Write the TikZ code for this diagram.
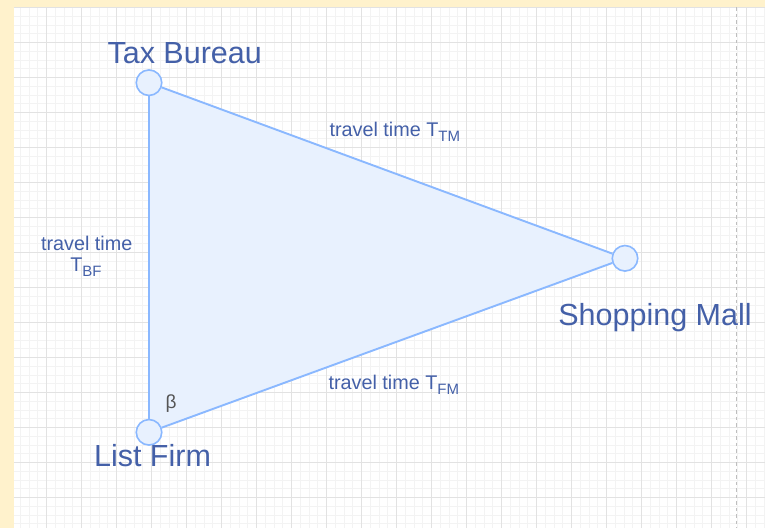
\documentclass[tikz,border=0pt]{standalone}
\usepackage{fontspec}
\setmainfont{Liberation Sans}
\definecolor{cream}{RGB}{255,242,204}
\definecolor{minorg}{RGB}{243,243,243}
\definecolor{majorg}{RGB}{226,226,226}
\definecolor{dashg}{RGB}{190,190,190}
\definecolor{edgeblue}{RGB}{138,184,255}
\definecolor{fillblue}{RGB}{232,241,254}
\definecolor{txtblue}{RGB}{68,96,168}
\definecolor{betagray}{RGB}{85,85,85}
\tikzset{
  vertex/.style={circle,draw=edgeblue,fill=fillblue,line width=1.6pt,minimum size=25.5pt,inner sep=0pt},
  edgeline/.style={draw=edgeblue,line width=1.9pt},
  bigtxt/.style={text=txtblue,font=\fontsize{30.5}{36}\selectfont,inner sep=0pt,anchor=base},
  smalltxt/.style={text=txtblue,font=\fontsize{19.8}{22}\selectfont,inner sep=0pt},
  minorline/.style={draw=minorg,line width=1pt},
  majorline/.style={draw=majorg,line width=1pt}
}
\newcommand{\Tsub}[1]{T\raisebox{-5pt}{\fontsize{15}{15}\selectfont #1}}
\begin{document}
\begin{tikzpicture}[x=1pt,y=-1pt]
\useasboundingbox (0,0) rectangle (765,528);
\fill[cream] (0,0) rectangle (765,528);
\fill[white] (14,7.3) rectangle (765,528);
\begin{scope}
\clip (14,7.3) rectangle (765,528);
\foreach \i in {0,...,86} {\draw[minorline] ({11.7+8.75*\i},0) -- ++(0,528);}
\foreach \i in {0,...,60} {\draw[minorline] (0,{7.7+8.75*\i}) -- ++(765,0);}
\foreach \i in {0,...,21} {\draw[majorline] ({11.7+35*\i},0) -- ++(0,528);}
\foreach \i in {0,...,15} {\draw[majorline] (0,{7.7+35*\i}) -- ++(765,0);}
\end{scope}
\coordinate (dtop) at (736.7,7.3);
\coordinate (dbot) at (736.7,528);
\draw[dashg,line width=1pt,dash pattern=on 3.5pt off 3pt] (dtop) -- (dbot);
% vertices
\coordinate (ctb) at (149,82.7);
\coordinate (csm) at (625,258.3);
\coordinate (clf) at (149,432.3);
\fill[fillblue] (ctb) -- (csm) -- (clf) -- cycle;
\node[vertex] (tb) at (ctb) {};
\node[vertex] (sm) at (csm) {};
\node[vertex] (lf) at (clf) {};
\draw[edgeline] (tb) -- (sm);
\draw[edgeline] (sm) -- (lf);
\draw[edgeline] (lf) -- (tb);
% labels
\node[bigtxt] (ltb) at (184.7,63.3) {Tax Bureau};
\node[bigtxt] (lsm) at (655,325) {Shopping Mall};
\node[bigtxt] (llf) at (152.5,466.7) {List Firm};
\node[smalltxt,anchor=base west] (ltm) at (329.3,136) {travel time \Tsub{TM}};
\node[smalltxt,anchor=base west] (lfm) at (328.3,389) {travel time \Tsub{FM}};
\node[smalltxt,anchor=base] (lbf1) at (86.7,250) {travel time};
\node[smalltxt,anchor=base] (lbf2) at (86,271.7) {\Tsub{BF}};
\node[text=betagray,font=\fontsize{19}{22}\selectfont,inner sep=0pt,anchor=base] (beta) at (171,408.3) {β};
\end{tikzpicture}
\end{document}
